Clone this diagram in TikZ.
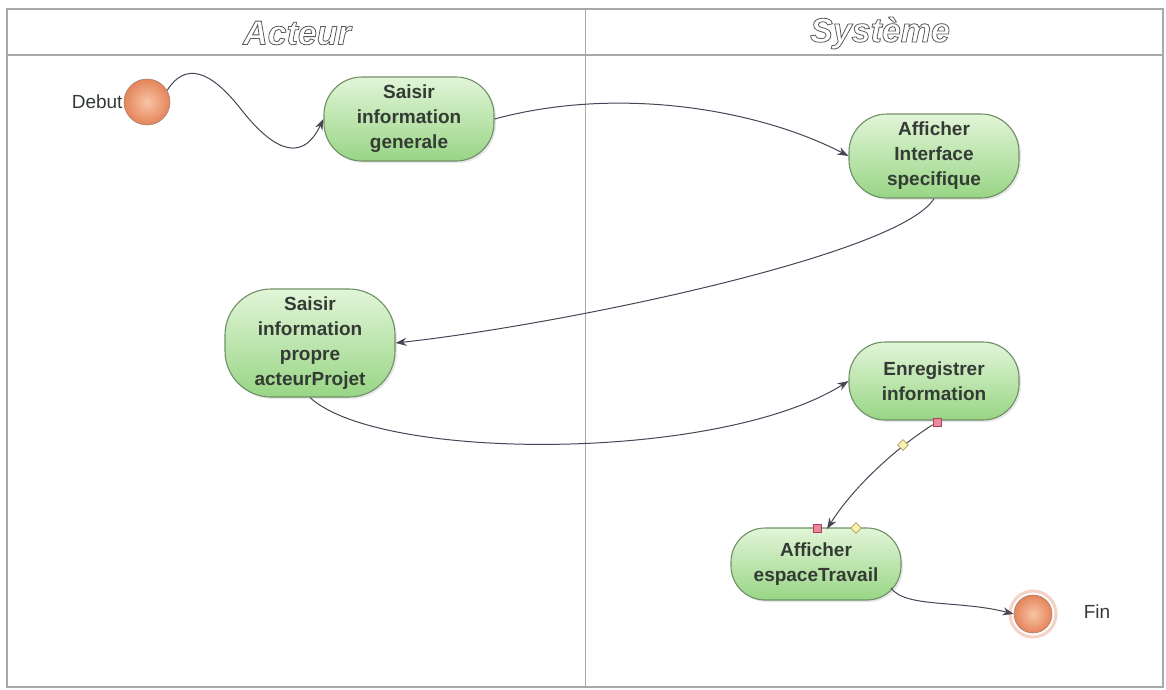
\documentclass[tikz,border=0pt]{standalone}
\usepackage{fontspec}
\setmainfont{Liberation Sans}
\usetikzlibrary{arrows.meta,shapes.geometric,shadows,calc}

\definecolor{framecol}{HTML}{A8A8A8}
\definecolor{pilltop}{HTML}{E2F5D8}
\definecolor{pillbot}{HTML}{98D585}
\definecolor{pillborder}{HTML}{6F8F66}
\definecolor{txtcol}{HTML}{343B34}
\definecolor{linecol}{HTML}{464656}
\definecolor{ballin}{HTML}{F9C4A6}
\definecolor{ballout}{HTML}{E4845A}
\definecolor{ballborder}{HTML}{A88070}
\definecolor{halo}{HTML}{F4D2C4}
\definecolor{sqfill}{HTML}{E8899E}
\definecolor{sqdraw}{HTML}{B0405A}
\definecolor{dmfill}{HTML}{F6F1B4}
\definecolor{dmdraw}{HTML}{B59F55}

% hollow (outlined) lettering for the lane titles
\newcommand\hollowtext[1]{\special{pdf:literal direct 2 Tr 0.8 w 1 g 0.35 G}#1\special{pdf:literal direct 0 Tr 0 g 0 G}}

\tikzset{
  lanetitle/.style={font=\fontsize{34}{38}\selectfont\bfseries\itshape, inner sep=0},
  action/.style={draw=pillborder, line width=1.1pt, top color=pilltop, bottom color=pillbot,
    align=center, text=txtcol, font=\fontsize{19}{25}\selectfont\bfseries,
    inner sep=2pt, minimum width=170pt,
    drop shadow={opacity=0.18, shadow xshift=2pt, shadow yshift=-2pt}},
  ball/.style={circle, inner sep=0, minimum size=#1, draw=ballborder, line width=0.6pt,
    inner color=ballin, outer color=ballout},
  flow/.style={draw=linecol, line width=1pt, -{Stealth[length=11pt,width=8pt]}},
  sqmark/.style={rectangle, inner sep=0, minimum size=8pt, fill=sqfill, draw=sqdraw, line width=0.6pt},
  dmmark/.style={diamond, inner sep=0, minimum size=11pt, fill=dmfill, draw=dmdraw, line width=0.6pt},
  lbl/.style={font=\fontsize{19}{22}\selectfont, text=txtcol, inner sep=1pt}
}

\begin{document}
\begin{tikzpicture}[x=1pt,y=-1pt]
\useasboundingbox (0,0) rectangle (1166,689);
\fill[white] (0,0) rectangle (1166,689);

% swimlane frame
\draw[framecol, line width=1.3pt] (7,9) rectangle (1163,687);
\draw[framecol, line width=1.3pt] (7,55) -- (1163,55);
\draw[framecol, line width=1.0pt] (585,9) -- (585,687);
\node[lanetitle] (tA) at (297,33) {\hollowtext{Acteur}};
\node[lanetitle] (tS) at (880,33) {\hollowtext{Système}};

% start / end
\node[ball=46pt] (deb) at (147,102) {};
\node[lbl, anchor=east] (debl) at (deb.west) {Debut};
\node[circle, inner sep=0, minimum size=46pt, draw=halo, line width=3pt] (finhalo) at (1033,614) {};
\node[ball=38pt] (fin) at (1033,614) {};
\node[lbl] (finl) at (1097,612) {Fin};

% actions
\node[action, minimum height=84pt, rounded corners=38pt] (sg) at (409,119) {Saisir\\information\\generale};
\node[action, minimum height=84pt, rounded corners=38pt] (ai) at (934,156) {Afficher\\Interface\\specifique};
\node[action, minimum height=108pt, rounded corners=46pt] (sp) at (310,343) {Saisir\\information\\propre\\acteurProjet};
\node[action, minimum height=78pt, rounded corners=36pt] (en) at (934,381) {Enregistrer\\information};
\node[action, minimum height=72pt, rounded corners=34pt] (et) at (816,564) {Afficher\\espaceTravail};

% flows
\draw[flow] (deb.30) .. controls (185,62) and (210,70) .. (240,108)
                     .. controls (268,144) and (300,168) .. (sg.west);
\draw[flow] (sg.east) .. controls (620,85) and (760,110) .. (ai.west);
\draw[flow] (ai.south) .. controls (900,255) and (560,325) .. (sp.east);
\draw[flow] (sp.south) .. controls (380,462) and (720,462) .. (en.west);

\node[sqmark] (s1) at (937,422) {};
\coordinate (in5) at (827,529);
\draw[flow] (s1) .. controls (890,452) and (850,492) .. (in5);
\node[sqmark] (s2) at (817,528) {};
\node[dmmark] (d1) at (903,445) {};
\node[dmmark] (d2) at (856,528) {};

\draw[flow] ($(et.center)+(75,24)$) .. controls (905,608) and (960,600) .. (fin.west);
\end{tikzpicture}
\end{document}
